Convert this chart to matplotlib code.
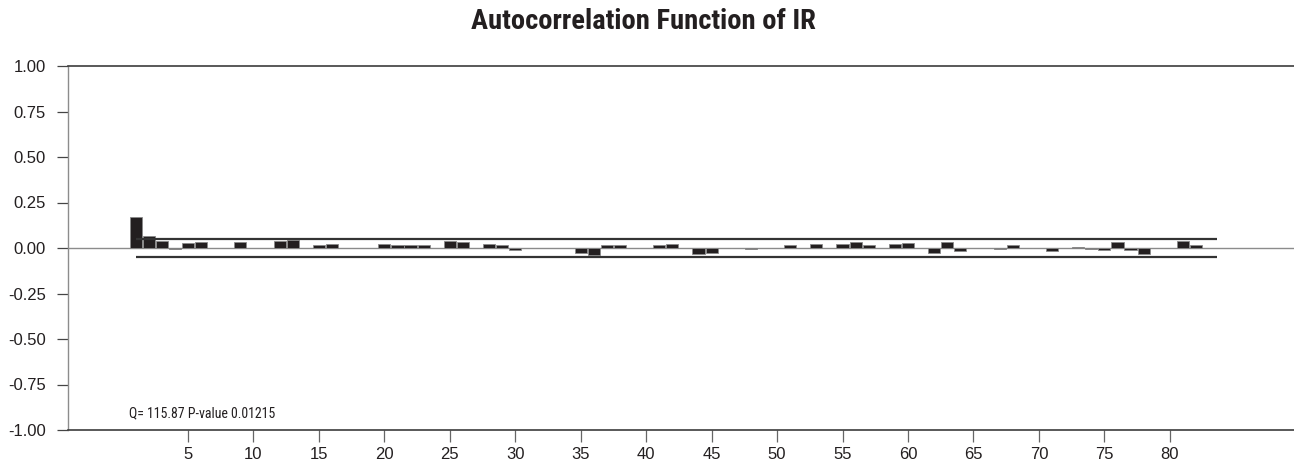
import matplotlib
matplotlib.use("Agg")
import matplotlib.pyplot as plt
from matplotlib import font_manager as fm
import numpy as np

# ---- data ----
lags = list(range(1, 83))
acf = [0.170, 0.068, 0.038, -0.007, 0.026, 0.033, 0.0, 0.0, 0.033, 0.0,
       0.0, 0.038, 0.046, 0.0, 0.016, 0.024, 0.0, 0.0, 0.0, 0.022,
       0.018, 0.015, 0.015, 0.0, 0.037, 0.031, 0.0, 0.020, 0.018, -0.012,
       0.0, 0.0, 0.0, 0.0, -0.030, -0.036, 0.015, 0.015, 0.0, 0.0,
       0.018, 0.024, 0.0, -0.033, -0.025, 0.0, 0.0, -0.004, 0.0, 0.0,
       0.016, 0.0, 0.020, 0.0, 0.022, 0.033, 0.016, 0.0, 0.020, 0.027,
       0.0, -0.030, 0.035, -0.015, 0.0, 0.0, -0.005, 0.016, 0.0, 0.0,
       -0.016, 0.0, 0.008, -0.005, -0.013, 0.031, -0.009, -0.035, 0.0, 0.0,
       0.037, 0.016]
band = 0.048
band_range = [1.0, 83.6]
xticks = [5, 10, 15, 20, 25, 30, 35, 40, 45, 50, 55, 60, 65, 70, 75, 80]
yticks = [1.00, 0.75, 0.50, 0.25, 0.00, -0.25, -0.50, -0.75, -1.00]
title = "Autocorrelation Function of IR"
note = "Q= 115.87 P-value 0.01215"

names = {f.name for f in fm.fontManager.ttflist}
narrow = None
for cand in ["Liberation Sans Narrow", "Roboto Condensed", "Open Sans Condensed"]:
    if cand in names:
        narrow = cand
        break
plt.rcParams['font.family'] = ['Liberation Sans', 'DejaVu Sans']

W, H = 1294, 462
fig = plt.figure(figsize=(W / 100, H / 100), dpi=100)
ax = fig.add_axes([68 / W, 1 - 430 / H, 1 - 68 / W, (430 - 66) / H])

ax.set_xlim(-4.17, 89.49)
ax.set_ylim(-1.0, 1.0)

ax.bar(lags, acf, width=0.93, color='#231f20', edgecolor='#8a8a8a',
       linewidth=0.6, zorder=3)
ax.axhline(0, color='#8c8c8c', lw=1.0, zorder=2)
ax.hlines([band, -band], band_range[0], band_range[1], colors='#333333',
          lw=1.6, zorder=4)

ax.spines['right'].set_visible(False)
ax.spines['left'].set_color('#8c8c8c')
ax.spines['left'].set_linewidth(1.0)
for s in ['top', 'bottom']:
    ax.spines[s].set_color('#3c3c3c')
    ax.spines[s].set_linewidth(1.2)

ax.set_yticks(yticks)
ax.set_yticklabels([f"{v:.2f}" for v in yticks])
ax.set_xticks(xticks)
ax.set_xticklabels([str(v) for v in xticks])
ax.tick_params(axis='y', length=8, width=0.9, color='#444444', pad=8,
               labelsize=12, labelcolor='#231f20')
ax.tick_params(axis='x', length=8.5, width=0.9, color='#666666', pad=3.5,
               labelsize=12, labelcolor='#231f20')

if narrow:
    note_fam, note_size = [narrow, 'DejaVu Sans'], 10
    title_fam, title_size = [narrow, 'DejaVu Sans'], 20.5
else:
    note_fam, note_size = ['Liberation Sans', 'DejaVu Sans'], 8.8
    title_fam, title_size = ['Liberation Sans', 'DejaVu Sans'], 17.3

ax.text(0.5, -0.93, note, fontsize=note_size, family=note_fam,
        color='#231f20', ha='left', va='baseline')

fig.text(643.5 / W, 1 - 21.5 / H, title, fontsize=title_size, fontweight='bold',
         family=title_fam, color='#231f20', ha='center', va='center')

fig.savefig("out.png", dpi=100)
